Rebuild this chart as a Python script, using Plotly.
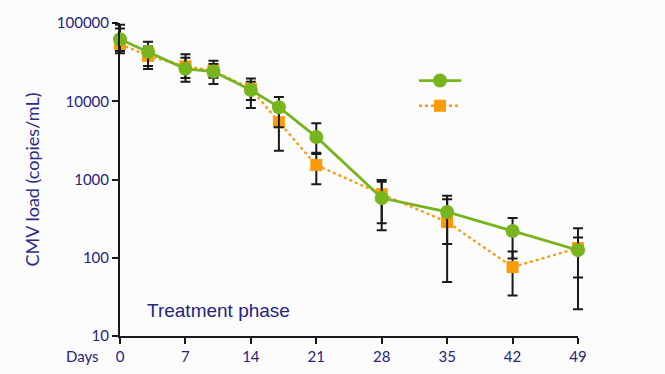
import plotly.graph_objects as go

days = [0, 3, 7, 10, 14, 17, 21, 28, 35, 42, 49]

green_vals = [62000, 43000, 26000, 24000, 13900, 8400, 3500, 580, 385, 220, 125]
green_hi = [95000, 57600, 36000, 33000, 19600, 11300, 5220, 935, 621, 322, 182]
green_lo = [44000, 28300, 19800, 16600, 10400, 4640, 2120, 275, 150, 98, 56]

orange_vals = [54000, 38000, 28000, 24500, 14500, 5400, 1530, 650, 286, 76, 133]
orange_hi = [85000, 50000, 39800, 30000, 17800, 8000, 2200, 985, 558, 120, 238]
orange_lo = [41000, 25800, 17800, 20000, 8200, 2330, 870, 225, 49, 33, 22]

x_ticks = [0, 7, 14, 21, 28, 35, 42, 49]
y_ticks = [10, 100, 1000, 10000, 100000]
y_tick_labels = ["10", "100", "1000", "10000", "100000"]

GREEN = "#78b41e"
ORANGE = "#fb9a0a"
NAVY = "#24247e"
FONT = "Lato"


def err(vals, hi, lo):
    return dict(
        type="data",
        symmetric=False,
        array=[h - v for h, v in zip(hi, vals)],
        arrayminus=[v - l for v, l in zip(vals, lo)],
        color="#1a1a1a",
        thickness=2,
        width=5,
    )


fig = go.Figure()
fig.add_trace(go.Scatter(
    x=days, y=orange_vals, name=" ", mode="lines+markers",
    line=dict(color=ORANGE, width=2.3, dash="dot"),
    marker=dict(symbol="square", size=12, color=ORANGE),
    error_y=err(orange_vals, orange_hi, orange_lo),
    cliponaxis=False, legendrank=2, legendgroup="b",
))
fig.add_trace(go.Scatter(
    x=days, y=green_vals, name=" ", mode="lines+markers",
    line=dict(color=GREEN, width=2.8),
    marker=dict(symbol="circle", size=14, color=GREEN),
    error_y=err(green_vals, green_hi, green_lo),
    cliponaxis=False, legendrank=1, legendgroup="a",
))

fig.update_layout(
    width=665, height=374,
    margin=dict(l=120, r=87, t=23, b=38),
    paper_bgcolor="#fcfcfd",
    plot_bgcolor="rgba(0,0,0,0)",
    font=dict(family=FONT, color=NAVY, size=15),
    showlegend=True,
    legend=dict(
        x=0.642, y=0.866, xanchor="left", yanchor="top",
        bgcolor="rgba(0,0,0,0)", font=dict(size=14),
        itemwidth=42, tracegroupgap=4,
    ),
    xaxis=dict(
        range=[0, 49], tickvals=x_ticks, ticktext=[str(t) for t in x_ticks],
        showgrid=False, zeroline=False, showline=True, linecolor="#1a1a1a",
        linewidth=2, ticks="outside", ticklen=6, tickwidth=2, tickcolor="#1a1a1a",
        tickfont=dict(family=FONT, size=15, color=NAVY), automargin=False,
    ),
    yaxis=dict(
        type="log", range=[1, 5], tickvals=y_ticks, ticktext=y_tick_labels,
        showgrid=False, zeroline=False, showline=True, linecolor="#1a1a1a",
        linewidth=2, ticks="outside", ticklen=6, tickwidth=2, tickcolor="#1a1a1a",
        tickfont=dict(family=FONT, size=15, color=NAVY), automargin=False,
        title=dict(text="CMV load (copies/mL)", font=dict(family=FONT, size=18, color="#2b2b8c"), standoff=12),
    ),
    annotations=[
        dict(text="Treatment phase", xref="paper", yref="paper", x=0.055, y=0.08,
             xanchor="left", yanchor="middle", showarrow=False,
             font=dict(family="Liberation Sans", size=19, color=NAVY)),
        dict(text="Days", xref="paper", yref="paper", x=-0.042, y=-0.03,
             xanchor="right", yanchor="top", showarrow=False,
             font=dict(family=FONT, size=15, color=NAVY)),
    ],
)

post = (
    "document.body.style.margin='0';"
    "document.body.style.overflow='hidden';"
    "var gd=document.querySelector('.plotly-graph-div');"
    "gd.querySelectorAll('.errorbars, .errorbars *, .errorbar, g.trace.scatter').forEach(function(e){e.removeAttribute('clip-path');});"
)
fig.write_html("out.html", config={"displayModeBar": False}, post_script=post)
